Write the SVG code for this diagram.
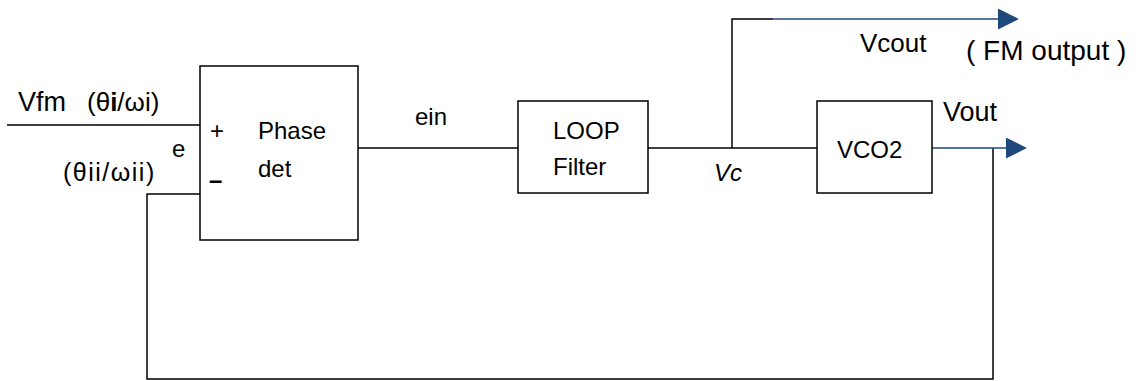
<svg xmlns="http://www.w3.org/2000/svg" width="1136" height="381" viewBox="0 0 1136 381">
  <defs>
    <style>
      .blk { fill: #fff; stroke: #000; stroke-width: 1.5; }
      .wire { fill: none; stroke: #000; stroke-width: 1.5; }
      .out { fill: none; stroke: #1F497D; stroke-width: 1.5; }
      text { font-family: "Liberation Sans", Arial, sans-serif; font-size: 24px; fill: #000; }
      .big { font-size: 27px; }
      .mid { font-size: 26px; }
      .fm { font-size: 28px; }
      .ang2 { font-size: 25px; letter-spacing: 1.5px; }
      .neg { font-weight: bold; }
    </style>
    <marker id="arrow" viewBox="0 0 10 10" refX="1" refY="5" markerWidth="21" markerHeight="21" markerUnits="userSpaceOnUse" orient="auto">
      <path d="M0,0 L10,5 L0,10 z" fill="#1F497D"/>
    </marker>
  </defs>
  <rect width="1136" height="381" fill="#fff"/>

  <g id="connectors">
    <line class="wire" x1="7" y1="125" x2="200" y2="125"/>
    <polyline class="wire" points="200,194 147,194 147,379 993,379 993,148"/>
    <line class="wire" x1="358" y1="148" x2="518" y2="148"/>
    <line class="wire" x1="648" y1="148" x2="817" y2="148"/>
    <polyline class="wire" points="732,148 732,19 773,19"/>
    <line class="out" x1="773" y1="19" x2="1000" y2="19" marker-end="url(#arrow)"/>
    <line class="out" x1="932" y1="148" x2="1008" y2="148" marker-end="url(#arrow)"/>
  </g>

  <g id="phase-det">
    <rect class="blk" x="200" y="66" width="158" height="174"/>
    <text x="210" y="139">+</text>
    <text class="neg" x="209" y="188">–</text>
    <text x="258" y="139">Phase</text>
    <text x="258" y="177">det</text>
  </g>

  <g id="loop-filter">
    <rect class="blk" x="518" y="101" width="130" height="92"/>
    <text x="553" y="139">LOOP</text>
    <text x="553" y="175">Filter</text>
  </g>

  <g id="vco2">
    <rect class="blk" x="817" y="101" width="115" height="92"/>
    <text x="837" y="158">VCO2</text>
  </g>

  <g id="labels">
    <text class="big" x="18" y="111">Vfm</text>
    <text class="mid" x="87" y="111">(θ<tspan font-weight="bold">i</tspan>/ωi)</text>
    <text x="172" y="157">e</text>
    <text class="ang2" x="63" y="181">(θii/ωii)</text>
    <text x="415" y="125">ein</text>
    <text x="714" y="181" font-style="italic">Vc</text>
    <text class="big" x="943" y="121">Vout</text>
    <text class="mid" x="860" y="52">Vcout</text>
    <text class="fm" x="966" y="60">( FM output )</text>
  </g>
</svg>
